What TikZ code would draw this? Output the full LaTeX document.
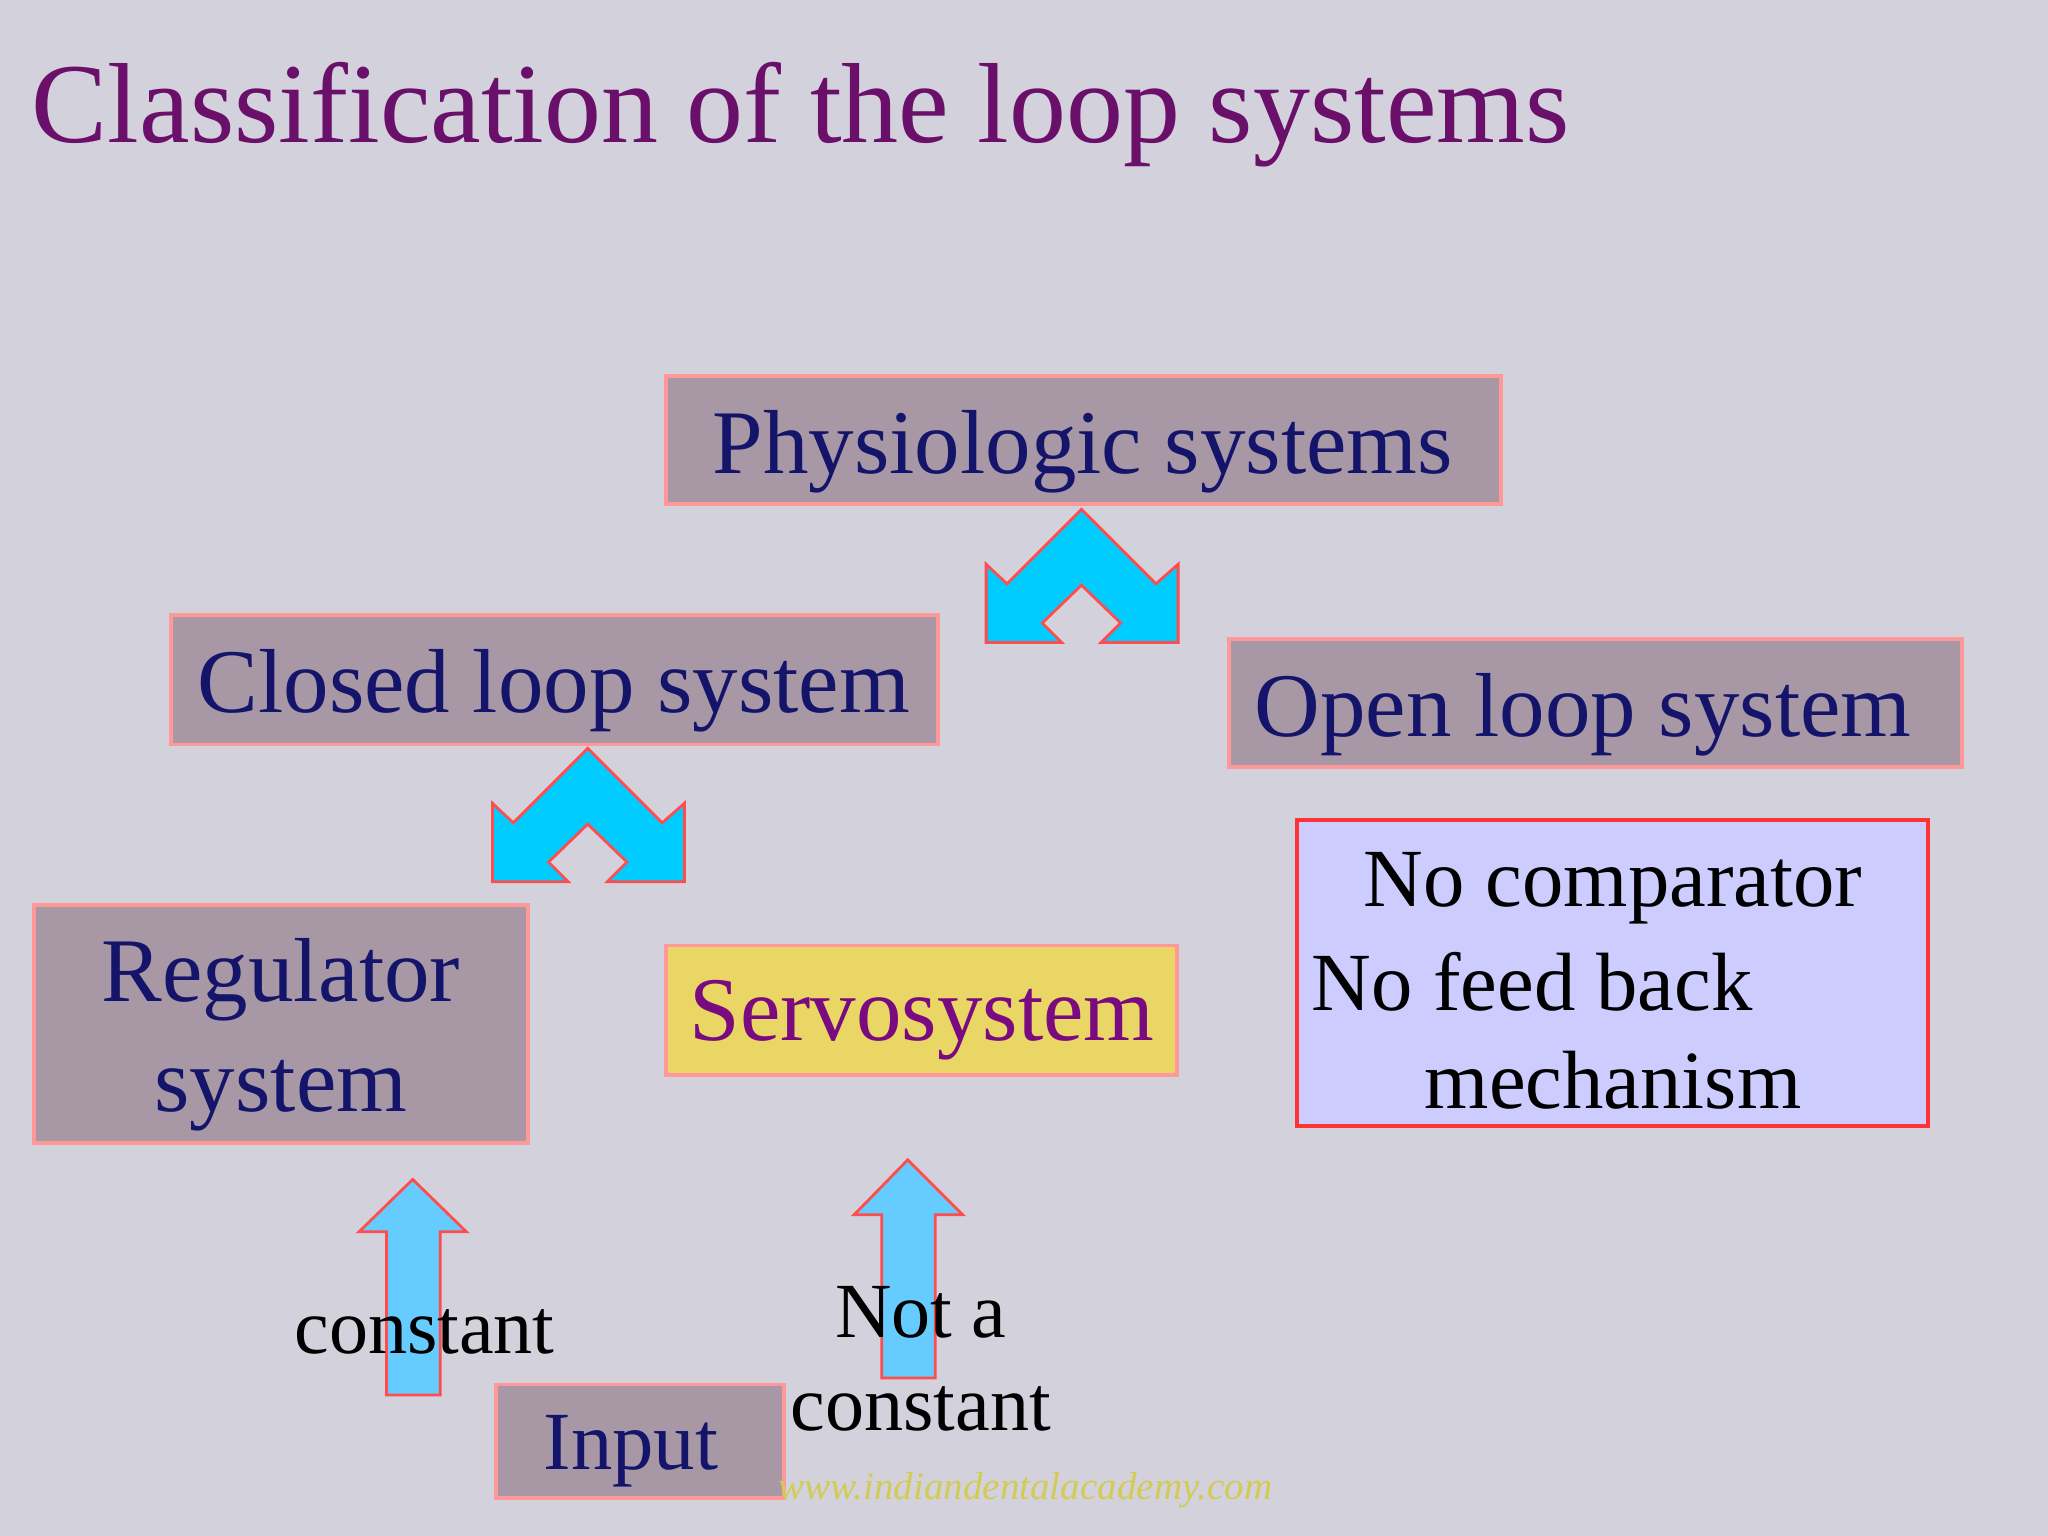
\documentclass[tikz,border=0pt]{standalone}
\usepackage{fontspec}
\setmainfont{Liberation Serif}
\begin{document}
\begin{tikzpicture}[x=0.01cm,y=-0.01cm,
 box/.style={draw=pink!80!red,line width=0.8pt,fill=boxc,inner sep=0},
 btxt/.style={text=navy,font=\fontsize{19.8}{24}\selectfont},
 arr/.style={fill=cyanA,draw=red!70,line width=0.6pt},
 uarr/.style={fill=cyanB,draw=red!70,line width=0.6pt}]
\definecolor{bg}{HTML}{D3D1DC}\definecolor{boxc}{HTML}{A898A6}
\definecolor{navy}{HTML}{14146A}\definecolor{tit}{HTML}{6A0F6A}
\definecolor{cyanA}{HTML}{00CCFF}\definecolor{cyanB}{HTML}{66CCFF}
\definecolor{servof}{HTML}{EAD664}\definecolor{servot}{HTML}{7A0A80}
\fill[bg] (0,0) rectangle (1568,1176);
\useasboundingbox (0,0) rectangle (1568,1176);
\node[anchor=west,text=tit,font=\fontsize{24.8}{30}\selectfont] (title) at (12,88) {Classification of the loop systems};
\draw[box] (510,288) rectangle (1149,386);
\node[btxt] (phys) at (829,346) {Physiologic systems};
\draw[box] (131,471) rectangle (718,570);
\node[btxt] (closed) at (424,529) {Closed loop system};
\draw[box] (941,489) rectangle (1502,587);
\node[btxt] (open) at (1212,547) {Open loop system};
\draw[box] (26,693) rectangle (404,875);
\node[btxt,align=center] (reg) at (215,792) {Regulator\\system};
\draw[draw=pink!80!red,line width=0.8pt,fill=servof] (510,724) rectangle (901,823);
\node[text=servot,font=\fontsize{19.8}{24}\selectfont] (servo) at (706,781) {Servosystem};
\draw[draw=red!80,line width=0.8pt,fill=blue!20] (993,628) rectangle (1476,862);
\begin{scope}[font=\fontsize{18}{22}\selectfont]
\node (n1) at (1235,680) {No comparator};
\node (n2) at (1173,752) {No feed back};
\node (n3) at (1235,827) {mechanism};
\end{scope}
\foreach \dx/\dy in {0/0,-378/183}{
\draw[arr,shift={(\dx,\dy)}] (828,390)--(885,447)--(902,432)--(902,492)--(843,492)--(858,477)--(828,448)--(798,477)--(813,492)--(755,492)--(755,432)--(771,447)--cycle;}
\draw[uarr] (316,903)--(357,943)--(337,943)--(337,1068)--(296,1068)--(296,943)--(275,943)--cycle;
\draw[uarr] (695,888)--(737,930)--(716,930)--(716,1055)--(675,1055)--(675,930)--(654,930)--cycle;
\begin{scope}[font=\fontsize{17}{20}\selectfont]
\node (c1) at (325,1020) {constant};
\node (c2) at (705,1005) {Not a};
\node (c3) at (705,1079) {constant};
\end{scope}
\draw[box] (380,1060) rectangle (600,1147);
\node[btxt,font=\fontsize{18}{22}\selectfont] (inp) at (483,1111) {Input};
\node[text=yellow!60!gray,font=\fontsize{8.5}{10}\selectfont\itshape] (wm) at (785,1141) {www.indiandentalacademy.com};
\end{tikzpicture}
\end{document}
